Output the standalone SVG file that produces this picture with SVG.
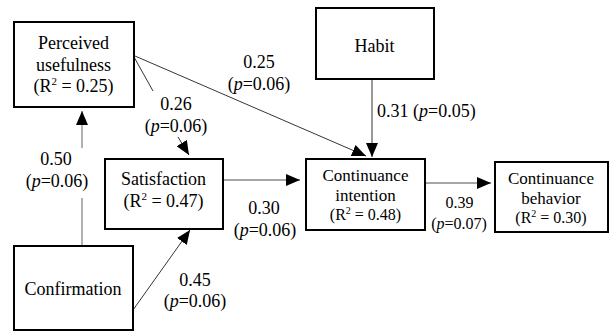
<svg xmlns="http://www.w3.org/2000/svg" width="609" height="331" viewBox="0 0 609 331">
<style>
.box{fill:#fff;stroke:#000;stroke-width:2}
.t{font-family:"Liberation Serif","Times New Roman",serif;font-size:18px;fill:#000;text-anchor:middle}
.m{font-size:17px}
.s{font-size:16px}
.ln{fill:none;stroke:#000;stroke-width:0.8}
.gl{fill:none;stroke:#888;stroke-width:1.3}
.i{font-style:italic}
</style>
<defs>
<marker id="ah" markerUnits="userSpaceOnUse" markerWidth="14" markerHeight="12" refX="14" refY="6" orient="auto">
<path d="M0,0 L14,6 L0,12 z" fill="#000"/>
</marker>
</defs>
<g id="connectors">
<path class="gl" d="M82,245 V198 M82,148 V111" marker-end="url(#ah)"/>
<path class="ln" d="M134,57 L153,91 M178,137 L189,155" marker-end="url(#ah)"/>
<path class="ln" d="M135,56 L366,156" marker-end="url(#ah)"/>
<path class="ln" d="M372,79 V157" marker-end="url(#ah)"/>
<path class="gl" d="M223,180 H300" marker-end="url(#ah)"/>
<path class="ln" d="M133,310 L190,230" marker-end="url(#ah)"/>
<path class="gl" d="M425,183 H491" marker-end="url(#ah)"/>
<text class="t" x="259" y="68">0.25</text>
<text class="t" x="259" y="90">(<tspan class="i">p</tspan>=0.06)</text>
<text class="t" x="176" y="110">0.26</text>
<text class="t" x="176" y="132">(<tspan class="i">p</tspan>=0.06)</text>
<text class="t" x="56" y="165">0.50</text>
<text class="t" x="57" y="187">(<tspan class="i">p</tspan>=0.06)</text>
<text class="t" x="264" y="214">0.30</text>
<text class="t" x="265" y="236">(<tspan class="i">p</tspan>=0.06)</text>
<text class="t" x="195" y="286">0.45</text>
<text class="t" x="195" y="307">(<tspan class="i">p</tspan>=0.06)</text>
<text class="t" x="377" y="117" style="text-anchor:start">0.31 (<tspan class="i">p</tspan>=0.05)</text>
<text class="t s" x="459.5" y="208">0.39</text>
<text class="t s" x="459" y="229">(<tspan class="i">p</tspan>=0.07)</text>
</g>
<g id="perceived-usefulness">
<rect class="box" x="14" y="22" width="120" height="85"/>
<text class="t" x="73.5" y="49">Perceived</text>
<text class="t" x="73.5" y="71">usefulness</text>
<text class="t" x="73.5" y="92">(R<tspan font-size="11" dy="-7">2</tspan><tspan dy="7"> = 0.25)</tspan></text>
</g>
<g id="habit">
<rect class="box" x="316" y="8" width="118" height="71"/>
<text class="t" x="374.5" y="52">Habit</text>
</g>
<g id="satisfaction">
<rect class="box" x="105" y="159" width="118" height="70"/>
<text class="t" x="163.5" y="185">Satisfaction</text>
<text class="t" x="163.5" y="207">(R<tspan font-size="11" dy="-7">2</tspan><tspan dy="7"> = 0.47)</tspan></text>
</g>
<g id="confirmation">
<rect class="box" x="14" y="246" width="119" height="84"/>
<text class="t" x="73" y="295">Confirmation</text>
</g>
<g id="continuance-intention">
<rect class="box" x="306" y="159" width="119" height="71"/>
<text class="t m" x="365.5" y="181">Continuance</text>
<text class="t m" x="365.5" y="201">intention</text>
<text class="t s" x="365.5" y="220">(R<tspan font-size="10" dy="-6">2</tspan><tspan dy="6"> = 0.48)</tspan></text>
</g>
<g id="continuance-behavior">
<rect class="box" x="495" y="162" width="113" height="70"/>
<text class="t m" x="551" y="184">Continuance</text>
<text class="t m" x="551" y="204">behavior</text>
<text class="t s" x="551" y="223">(R<tspan font-size="10" dy="-6">2</tspan><tspan dy="6"> = 0.30)</tspan></text>
</g>
</svg>
